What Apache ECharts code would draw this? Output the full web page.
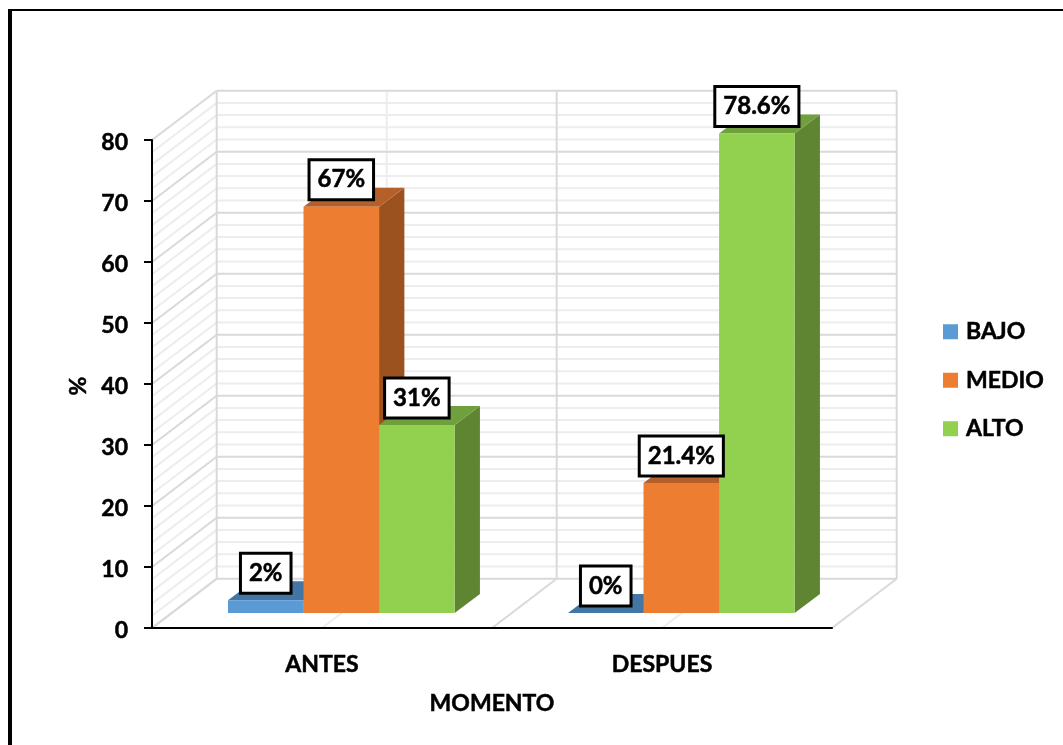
<!DOCTYPE html>
<html>
<head>
<meta charset="utf-8">
<style>html,body{margin:0;padding:0;background:#fff}#c{width:1063px;height:745px}</style>
<script src="https://cdn.jsdelivr.net/npm/echarts@6/dist/echarts.min.js"></script>
</head>
<body>
<div id="c"></div>
<script>
const categories = ['ANTES', 'DESPUES'];
const bajoValues = [2.1, 0];
const medioValues = [66.6, 21.3];
const altoValues = [30.8, 78.6];
const bajoLabels = ['2%', '0%'];
const medioLabels = ['67%', '21.4%'];
const altoLabels = ['31%', '78.6%'];
const wallTicks = [0,2,4,6,8,10,12,14,16,18,20,22,24,26,28,30,32,34,36,38,40,42,44,46,48,50,52,54,56,58,60,62,64,66,68,70,72,74,76,78,80];
const bandEdges = [0, 0.5, 1, 1.5, 2];

const FONT = 'Lato';
const BACK = [64.7, -49.3];
const BAR_OFF = [19.3, -15];
const BAR_DEPTH = [25.3, -19];
const MAJOR = '#D9D9D9', MINOR = '#EDEDED';
const HEAVY = {textBorderColor: '#000', textBorderWidth: 0.5};

function seg(x1, y1, x2, y2, color, z2) {
  return {type: 'line', shape: {x1, y1, x2, y2}, style: {stroke: color, lineWidth: 2}, z2, silent: true};
}
function renderWallTick(params, api) {
  const v = api.value(0);
  const r = params.coordSys;
  const y = api.coord([0, v])[1];
  const major = v % 10 === 0;
  const c = major ? MAJOR : MINOR, z = major ? 2 : 1;
  return {type: 'group', children: [
    seg(r.x, y, r.x + BACK[0], y + BACK[1], c, z),
    seg(r.x + BACK[0], y + BACK[1], r.x + r.width + BACK[0], y + BACK[1], c, z)
  ]};
}
function renderWallEdge(params, api) {
  const e = api.value(0);
  const r = params.coordSys;
  const x = r.x + e * r.width / 2;
  const y0 = r.y + r.height;
  const major = (e * 2) % 2 === 0;
  const c = major ? MAJOR : MINOR, z = major ? 2 : 1;
  return {type: 'group', children: [
    seg(x, y0, x + BACK[0], y0 + BACK[1], c, z),
    seg(x + BACK[0], y0 + BACK[1], x + BACK[0], r.y + BACK[1], c, z)
  ]};
}
function barRenderer(seriesIndex, labels, front, top, side) {
  return function (params, api) {
    const i = api.value(0), v = api.value(1);
    const p = api.coord([i, v]);
    const base = api.coord([i, 0]);
    const bw = api.size([1, 0])[0] * 2 / 9;
    const x0 = p[0] + BAR_OFF[0] + (seriesIndex - 1.5) * bw;
    const x1 = x0 + bw;
    const yt = p[1] + BAR_OFF[1];
    const yb = base[1] + BAR_OFF[1];
    const dx = BAR_DEPTH[0], dy = BAR_DEPTH[1];
    const kids = [
      {type: 'polygon', shape: {points: [[x1, yb], [x1 + dx, yb + dy], [x1 + dx, yt + dy], [x1, yt]]}, style: {fill: side}},
      {type: 'polygon', shape: {points: [[x0, yt], [x1, yt], [x1 + dx, yt + dy], [x0 + dx, yt + dy]]}, style: {fill: top}},
      {type: 'rect', shape: {x: x0, y: yt, width: bw, height: yb - yt}, style: {fill: front}},
      {type: 'text', z2: 100, x: (x0 + x1) / 2, y: yt - 27, style: {
        text: labels[params.dataIndex], fill: '#000', font: 'bold 24px ' + FONT,
        stroke: '#000', lineWidth: 0.5,
        align: 'center', verticalAlign: 'middle',
        backgroundColor: '#fff', borderColor: '#000', borderWidth: 3,
        padding: [9, 7, 4, 7]
      }}
    ];
    return {type: 'group', children: kids};
  };
}
function barData(values) { return values.map((v, i) => [i, v]); }

const option = {
  animation: false,
  backgroundColor: '#fff',
  textStyle: {fontFamily: FONT},
  graphic: [
    {type: 'rect', shape: {x: 8, y: 9, width: 4, height: 736}, style: {fill: '#000'}, silent: true},
    {type: 'rect', shape: {x: 8, y: 9, width: 1055, height: 2}, style: {fill: '#000'}, silent: true}
  ],
  legend: {
    orient: 'vertical', left: 943, top: 320, padding: 0, itemWidth: 15, itemHeight: 15, itemGap: 25, icon: 'rect',
    data: ['BAJO', 'MEDIO', 'ALTO'],
    selectedMode: false,
    formatter: '{t|{name}}',
    textStyle: {
      fontFamily: FONT, fontWeight: 'bold', fontSize: 23, color: '#000',
      rich: {t: Object.assign({fontFamily: FONT, fontWeight: 'bold', fontSize: 23, color: '#000', padding: [0, 0, 0, 3]}, HEAVY)}
    }
  },
  grid: {left: 152, top: 140, width: 680, height: 488},
  xAxis: {
    type: 'category', data: categories, z: 5,
    axisLine: {show: true, lineStyle: {color: '#000', width: 2}},
    axisTick: {show: false},
    axisLabel: Object.assign({color: '#000', fontFamily: FONT, fontWeight: 'bold', fontSize: 23, margin: 25}, HEAVY),
    name: 'MOMENTO', nameLocation: 'middle', nameGap: 64,
    nameTextStyle: Object.assign({color: '#000', fontFamily: FONT, fontWeight: 'bold', fontSize: 23}, HEAVY),
    splitLine: {show: false}
  },
  yAxis: {
    type: 'value', min: 0, max: 80, interval: 10, z: 5,
    axisLine: {show: true, lineStyle: {color: '#000', width: 2}},
    axisTick: {show: true, length: 8, lineStyle: {color: '#000', width: 2}},
    axisLabel: {
      margin: 24, formatter: '{t|{value}}',
      rich: {t: Object.assign({color: '#000', fontFamily: FONT, fontWeight: 'bold', fontSize: 23, padding: [5, 0, 0, 0]}, HEAVY)}
    },
    name: '%', nameLocation: 'middle', nameGap: 62, nameRotate: 90,
    nameTextStyle: Object.assign({color: '#000', fontFamily: FONT, fontWeight: 'bold', fontSize: 23, padding: [0, 4, 0, 0]}, HEAVY),
    splitLine: {show: false}
  },
  series: [
    {type: 'custom', name: 'wallTicks', silent: true, z: 0, data: wallTicks.map(v => [v]), renderItem: renderWallTick, encode: {}},
    {type: 'custom', name: 'wallEdges', silent: true, z: 0, data: bandEdges.map(v => [v]), renderItem: renderWallEdge, encode: {}},
    {type: 'custom', name: 'BAJO', z: 3, silent: true, itemStyle: {color: '#5B9BD5'}, data: barData(bajoValues),
      encode: {x: 0, y: 1}, renderItem: barRenderer(0, bajoLabels, '#5B9BD5', '#4476A5', '#3F6E9B')},
    {type: 'custom', name: 'MEDIO', z: 3, silent: true, itemStyle: {color: '#ED7D31'}, data: barData(medioValues),
      encode: {x: 0, y: 1}, renderItem: barRenderer(1, medioLabels, '#ED7D31', '#B5602A', '#9C521E')},
    {type: 'custom', name: 'ALTO', z: 3, silent: true, itemStyle: {color: '#92D050'}, data: barData(altoValues),
      encode: {x: 0, y: 1}, renderItem: barRenderer(2, altoLabels, '#92D050', '#6FA03D', '#5F8533')}
  ]
};
echarts.init(document.getElementById('c'), null, {renderer: 'canvas'}).setOption(option);
</script>
</body>
</html>
